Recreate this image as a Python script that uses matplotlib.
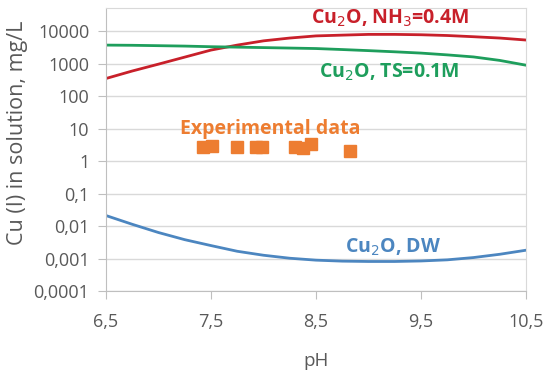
import matplotlib
matplotlib.use("Agg")
import matplotlib.pyplot as plt
from matplotlib.ticker import FixedLocator, FixedFormatter, NullLocator

# curves (pH vs Cu(I) in mg/L)
ph = [6.5, 6.75, 7.0, 7.25, 7.5, 7.75, 8.0, 8.25, 8.5,
      8.75, 9.0, 9.25, 9.5, 9.75, 10.0, 10.25, 10.5]
nh3 = [347, 590, 960, 1580, 2600, 3700, 5000, 6100, 7100,
       7500, 7900, 7900, 7700, 7300, 6700, 6100, 5300]
ts = [3700, 3650, 3550, 3450, 3300, 3200, 3100, 3000, 2900,
      2700, 2500, 2300, 2100, 1850, 1600, 1250, 890]
dw = [0.021, 0.0113, 0.0063, 0.0038, 0.0025, 0.00167, 0.00126, 0.00102, 0.00089,
      0.00083, 0.00081, 0.00081, 0.00084, 0.00091, 0.00107, 0.00135, 0.0018]

# experimental points
exp_ph = [7.42, 7.51, 7.75, 7.93, 7.99, 8.30, 8.38, 8.45, 8.82]
exp_val = [2.8, 2.9, 2.7, 2.8, 2.8, 2.7, 2.5, 3.3, 2.0]

yticks = [0.0001, 0.001, 0.01, 0.1, 1, 10, 100, 1000, 10000]
ylabels = ["0,0001", "0,001", "0,01", "0,1", "1", "10", "100", "1000", "10000"]
xticks = [6.5, 7.5, 8.5, 9.5, 10.5]
xlabels = ["6,5", "7,5", "8,5", "9,5", "10,5"]

RED = "#C8202A"
GREEN = "#1E9E5C"
BLUE = "#4C86C0"
ORANGE = "#ED7D31"
GRAY = "#595959"

plt.rcParams['font.family'] = ['Open Sans', 'DejaVu Sans']

fig = plt.figure(figsize=(5.45, 3.76), dpi=100)
ax = fig.add_axes([106 / 545, 1 - 291 / 376, 420 / 545, 283 / 376])

ax.plot(ph, nh3, color=RED, lw=2)
ax.plot(ph, ts, color=GREEN, lw=2)
ax.plot(ph, dw, color=BLUE, lw=2)
ax.plot(exp_ph, exp_val, "s", color=ORANGE, ms=8, mec=ORANGE, ls="none")

ax.set_yscale("log")
ax.set_ylim(1e-4, 10 ** 4.71)
ax.set_xlim(6.5, 10.5)
ax.yaxis.set_major_locator(FixedLocator(yticks))
ax.yaxis.set_major_formatter(FixedFormatter(ylabels))
ax.yaxis.set_minor_locator(NullLocator())
ax.set_xticks(xticks)
ax.set_xticklabels(xlabels)

ax.grid(axis="y", color="#D9D9D9", lw=1)
ax.set_axisbelow(True)
for side in ["top", "right"]:
    ax.spines[side].set_color("#D9D9D9")
for side in ["left", "bottom"]:
    ax.spines[side].set_color("#BFBFBF")
ax.tick_params(axis="both", colors="#BFBFBF", labelcolor=GRAY, labelsize=13,
               length=6, direction="out")
ax.tick_params(axis="y", pad=6)
ax.tick_params(axis="x", pad=10)

ax.set_xlabel("pH", color=GRAY, fontsize=13.5, labelpad=15)
ax.set_ylabel("Cu (I) in solution, mg/L", color=GRAY, fontsize=15.5)
ax.yaxis.set_label_coords(-0.185, 0.56)

ax.text(9.2, 10 ** 4.40, "Cu$_2$O, NH$_3$=0.4M", color=RED, fontsize=14,
        fontweight="bold", ha="center", va="center")
ax.text(9.2, 10 ** 2.73, "Cu$_2$O, TS=0.1M", color=GREEN, fontsize=14,
        fontweight="bold", ha="center", va="center")
ax.text(8.06, 10 ** 0.98, "Experimental data", color=ORANGE, fontsize=14,
        fontweight="bold", ha="center", va="center")
ax.text(9.23, 10 ** -2.67, "Cu$_2$O, DW", color=BLUE, fontsize=14,
        fontweight="bold", ha="center", va="center")

fig.savefig("out.png", dpi=100)
